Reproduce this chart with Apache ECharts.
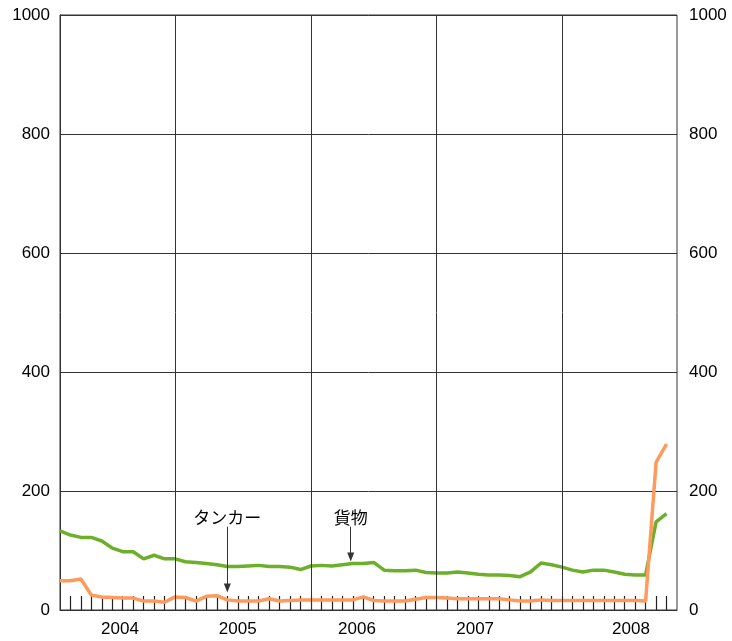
<!DOCTYPE html>
<html>
<head>
<meta charset="utf-8">
<script src="https://cdn.jsdelivr.net/npm/echarts@6/dist/echarts.min.js"></script>
<style>
html,body{margin:0;padding:0;background:#fff;}
#c{width:732px;height:641px;}
</style>
</head>
<body>
<div id="c"></div>
<script>
// Monthly values (index 0 = first month shown)
const cargo = [133,126,122,122,116,104,98,98,86,92,86,86,81,80,78,76,73,73,74,75,73,73,72,68,74,75,74,76,78,78,80,67,66,66,67,63,62,62,64,62,60,59,59,58,56,64,79,76,72,67,64,67,67,64,60,59,59,148,162];
const tanker = [49,49,52,25,22,21,20,20,15,15,13,22,21,15,23,24,17,15,15,15,19,15,16,17,17,17,17,17,17,22,16,15,15,15,18,21,21,20,19,19,19,19,19,17,15,15,17,16,16,16,16,16,16,16,16,16,15,248,279];
const totalMonths = 59;
const yearLabels = ['2004','2005','2006','2007','2008'];
const yearLabelPos = [5.74, 17.0, 28.4, 39.7, 54.6];
const yearDividers = [11, 24, 36, 48];
const yTicks = [0,200,400,600,800,1000];
const annotations = [
  {name:'タンカー', x:16, textY:156, from:140, to:37},
  {name:'貨物', x:27.8, textY:156, from:140, to:89}
];

const monthTicks = [];
for (let i = 1; i < totalMonths; i++) monthTicks.push(i);

const font = '"Liberation Sans", Arial, Helvetica, sans-serif';
const jpFont = '"Noto Sans CJK JP", "Liberation Sans", sans-serif';
const dark = '#333';
const plain = v => String(v);

const chart = echarts.init(document.getElementById('c'));
const option = {
  animation: false,
  grid: {left:60, right:55, top:15, bottom:31, show:true, borderColor:dark, borderWidth:1, backgroundColor:'transparent'},
  xAxis: {
    type:'value', min:0, max:totalMonths,
    axisLine:{show:true, lineStyle:{color:dark, width:1}},
    axisTick:{show:true, inside:true, length:14, customValues:monthTicks, lineStyle:{color:'#222', width:1.2}},
    axisLabel:{show:true, customValues:yearLabelPos, margin:11, color:'#000', fontSize:17, fontFamily:font,
      formatter:function(v){
        let best=0, d=1e9;
        yearLabelPos.forEach((p,i)=>{ if(Math.abs(p-v)<d){d=Math.abs(p-v);best=i;} });
        return yearLabels[best];
      }},
    splitLine:{show:false}
  },
  yAxis: [
    {type:'value', min:yTicks[0], max:yTicks[yTicks.length-1], interval:200, position:'left',
     axisLine:{show:true, lineStyle:{color:dark}}, axisTick:{show:false},
     axisLabel:{color:'#000', fontSize:17, fontFamily:font, margin:10, formatter:plain},
     splitLine:{show:true, lineStyle:{color:dark, width:1}}},
    {type:'value', min:yTicks[0], max:yTicks[yTicks.length-1], interval:200, position:'right',
     axisLine:{show:false}, axisTick:{show:false},
     axisLabel:{color:'#000', fontSize:17, fontFamily:font, margin:12, formatter:plain},
     splitLine:{show:false}}
  ],
  series: [
    {
      type:'line', name:'grid', data:[], z:1, silent:true,
      markLine:{silent:true, symbol:'none', label:{show:false}, animation:false,
        lineStyle:{color:dark, width:1, type:'solid'},
        data: yearDividers.map(v=>({xAxis:v}))}
    },
    {
      type:'line', name:'貨物', z:3, showSymbol:false, symbol:'none',
      data: cargo.map((v,i)=>[i,v]),
      lineStyle:{color:'#6daf2b', width:3.5}, itemStyle:{color:'#6daf2b'}
    },
    {
      type:'line', name:'タンカー', z:4, showSymbol:false, symbol:'none',
      data: tanker.map((v,i)=>[i,v]),
      lineStyle:{color:'#ff9a5c', width:3.5}, itemStyle:{color:'#ff9a5c'}
    },
    {
      type:'line', name:'ann', data:[], z:5, silent:true,
      markLine:{silent:true, symbol:['none','triangle'], symbolSize:[7,9], label:{show:false}, animation:false,
        lineStyle:{color:dark, width:1, type:'solid'},
        data: annotations.map(a=>[{coord:[a.x,a.from]},{coord:[a.x,a.to]}])}
    }
  ]
};
chart.setOption(option);

const graphics = annotations.map(a=>{
  const p = chart.convertToPixel({gridIndex:0}, [a.x, a.textY]);
  return {type:'text', x:p[0], y:p[1], style:{text:a.name, font:'17px '+jpFont, fill:'#000', align:'center', verticalAlign:'middle'}};
});
chart.setOption({graphic: graphics});
</script>
</body>
</html>
